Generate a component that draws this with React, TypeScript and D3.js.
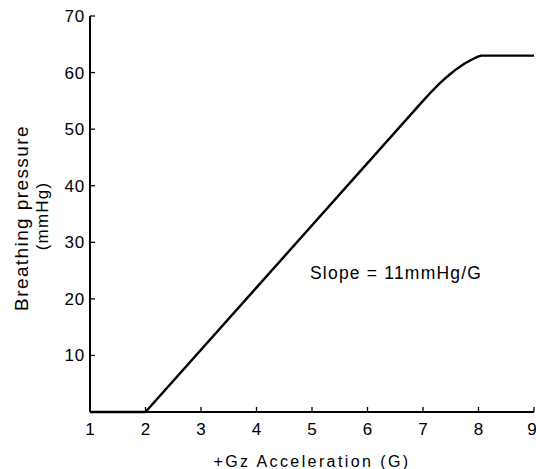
import React from "react";
import * as d3 from "d3";

const accelG = [1, 2, 7.0, 7.15, 7.3, 7.45, 7.6, 7.75, 7.9, 8.0, 8.05, 9];
const pressure = [0, 0, 55, 56.6, 58.1, 59.4, 60.6, 61.6, 62.4, 62.85, 63, 63];
const xTicks = [1, 2, 3, 4, 5, 6, 7, 8, 9];
const yTicks = [10, 20, 30, 40, 50, 60, 70];

const W = 536;
const H = 469;
const FONT = "'Liberation Sans', Arial, Helvetica, sans-serif";

export default function App() {
  const x = d3.scaleLinear().domain([1, 9]).range([90, 534]);
  const y = d3.scaleLinear().domain([0, 70]).range([412, 16]);
  const pts: [number, number][] = accelG.map((g, i) => [g, pressure[i]]);
  const line = d3
    .line<[number, number]>()
    .x((d) => x(d[0]))
    .y((d) => y(d[1]))
    .curve(d3.curveLinear);

  return (
    <svg
      width={W}
      height={H}
      style={{ position: "absolute", left: 0, top: 0, background: "#fff" }}
      fontFamily={FONT}
    >
      <line x1={x(1)} x2={x(9)} y1={y(0)} y2={y(0)} stroke="#000" strokeWidth={2} />
      <line x1={x(1)} x2={x(1)} y1={y(0)} y2={y(70)} stroke="#000" strokeWidth={2} />
      {xTicks.map((t) => (
        <g key={"x" + t}>
          {t > 1 && (
            <line x1={x(t)} x2={x(t)} y1={y(0)} y2={y(0) - 5} stroke="#000" strokeWidth={1.3} />
          )}
          <text x={x(t) - (t === 9 ? 2 : 0)} y={435} fontSize={17} textAnchor="middle" fill="#000">
            {t}
          </text>
        </g>
      ))}
      {yTicks.map((t) => (
        <g key={"y" + t}>
          <line x1={x(1)} x2={x(1) + 5} y1={y(t)} y2={y(t)} stroke="#000" strokeWidth={1.3} />
          <text x={x(1) - 5} y={y(t) + 6} fontSize={17} textAnchor="end" fill="#000" letterSpacing={0.8}>
            {t}
          </text>
        </g>
      ))}
      <path d={line(pts) || ""} fill="none" stroke="#000" strokeWidth={2.4} strokeLinejoin="round" />
      <text x={310} y={279} fontSize={17.5} fill="#000" letterSpacing={1.2}>
        Slope = 11mmHg/G
      </text>
      <text x={312} y={467} fontSize={16} textAnchor="middle" fill="#000" letterSpacing={2.4}>
        +Gz Acceleration (G)
      </text>
      <text
        transform="translate(28,218) rotate(-90)"
        fontSize={19}
        textAnchor="middle"
        fill="#000"
        letterSpacing={1.4}
      >
        Breathing pressure
      </text>
      <text
        transform="translate(48,216) rotate(-90)"
        fontSize={17}
        textAnchor="middle"
        fill="#000"
        letterSpacing={1.2}
      >
        (mmHg)
      </text>
    </svg>
  );
}
